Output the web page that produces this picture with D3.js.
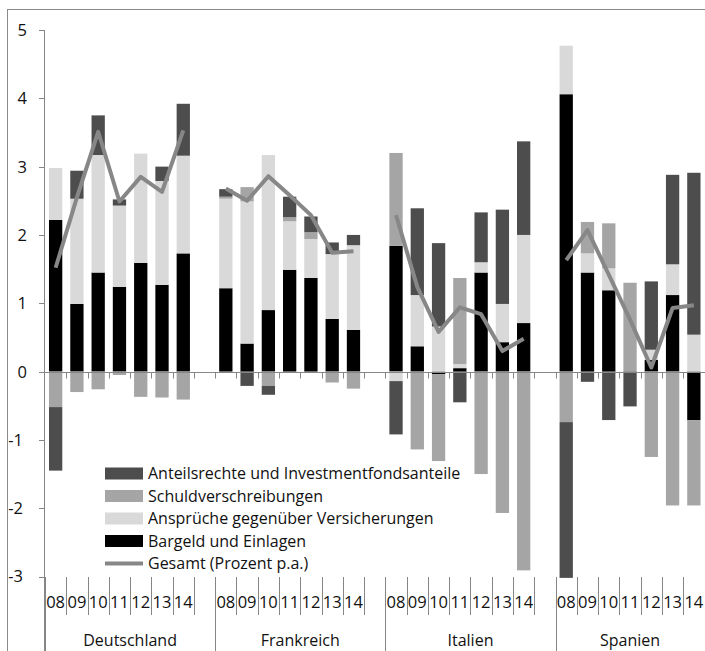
<!DOCTYPE html>
<html>
<head>
<meta charset="utf-8">
<script src="https://cdn.jsdelivr.net/npm/d3@7"></script>
<style>
  body { margin: 0; background: #fff; }
  svg { display: block; font-family: "Open Sans", sans-serif; }
</style>
</head>
<body>
<svg id="chart" width="705" height="651"></svg>
<script>
var countries = ["Deutschland", "Frankreich", "Italien", "Spanien"];
var years = ["08", "09", "10", "11", "12", "13", "14"];

// Beiträge in Prozentpunkten, je Land 08..14
var bargeld = [
  2.22, 0.99, 1.45, 1.24, 1.59, 1.27, 1.73,
  1.22, 0.41, 0.90, 1.49, 1.37, 0.77, 0.61,
  1.84, 0.37, -0.04, 0.05, 1.45, 0.43, 0.71,
  4.06, 1.45, 1.19, 0.00, 0.17, 1.12, -0.71
];
var ansprueche = [
  0.76, 1.54, 1.72, 1.19, 1.60, 1.52, 1.43,
  1.31, 2.08, 2.27, 0.71, 0.57, 0.95, 1.24,
  -0.14, 0.75, 0.66, 0.06, 0.15, 0.56, 1.29,
  0.71, 0.28, 0.32, 0.00, 0.15, 0.45, 0.54
];
var schuld = [
  -0.52, -0.30, -0.26, -0.05, -0.37, -0.38, -0.41,
  0.03, 0.21, -0.21, 0.06, 0.10, -0.16, -0.25,
  1.36, -1.14, -1.27, 1.26, -1.50, -2.07, -2.91,
  -0.74, 0.46, 0.66, 1.30, -1.25, -1.96, -1.25
];
var anteile = [
  -0.93, 0.41, 0.58, 0.09, 0.00, 0.21, 0.76,
  0.11, -0.21, -0.13, 0.30, 0.23, 0.17, 0.15,
  -0.78, 1.27, 1.22, -0.45, 0.73, 1.38, 1.37,
  -2.28, -0.15, -0.71, -0.51, 1.00, 1.31, 2.37
];
var gesamt = [
  1.52, 2.55, 3.51, 2.49, 2.85, 2.63, 3.53,
  2.68, 2.50, 2.86, 2.58, 2.29, 1.74, 1.76,
  2.29, 1.24, 0.58, 0.94, 0.84, 0.30, 0.48,
  1.63, 2.07, 1.42, 0.76, 0.06, 0.93, 0.97
];

var seriesKeys = ["bargeld", "ansprueche", "schuld", "anteile"];
var seriesColors = { bargeld: "#000000", ansprueche: "#d9d9d9", schuld: "#a5a5a5", anteile: "#4d4d4d" };
var legendLabels = [
  ["anteile", "Anteilsrechte und Investmentfondsanteile"],
  ["schuld", "Schuldverschreibungen"],
  ["ansprueche", "Ansprüche gegenüber Versicherungen"],
  ["bargeld", "Bargeld und Einlagen"],
  ["gesamt", "Gesamt (Prozent p.a.)"]
];
var yTicks = [5, 4, 3, 2, 1, 0, -1, -2, -3];

var svg = d3.select("#chart");
var axisColor = "#868686";
var lineColor = "#878787";
var fontSize = 16;

// outer frame
svg.append("rect")
  .attr("x", 7.5).attr("y", 9.5).attr("width", 760).attr("height", 700)
  .attr("fill", "none").attr("stroke", "#8a8a8a");

// rows, one per country/year, with an empty slot between countries
var rows = [];
var slots = [];
countries.forEach(function(c, ci) {
  years.forEach(function(yr, yi) {
    var i = ci * years.length + yi;
    var key = c + yr;
    slots.push(key);
    rows.push({ key: key, country: c, year: yr, bargeld: bargeld[i], ansprueche: ansprueche[i],
      schuld: schuld[i], anteile: anteile[i], gesamt: gesamt[i] });
  });
  if (ci < countries.length - 1) slots.push("gap" + ci);
});

var x = d3.scaleBand().domain(slots).range([45, 704.5]);
var y = d3.scaleLinear().domain([-3, 5]).range([576.5, 30]);
var bw = x.bandwidth();
var barW = bw * 0.625;

// y axis
var yAxis = svg.append("g");
yAxis.append("line")
  .attr("x1", 44.5).attr("x2", 44.5).attr("y1", y(5)).attr("y2", 651)
  .attr("stroke", axisColor);
yAxis.selectAll(".ytick").data(yTicks).enter().append("line")
  .attr("x1", 39).attr("x2", 44.5)
  .attr("y1", function(d) { return Math.round(y(d)) + 0.5; })
  .attr("y2", function(d) { return Math.round(y(d)) + 0.5; })
  .attr("stroke", axisColor);
yAxis.selectAll("text").data(yTicks).enter().append("text")
  .attr("x", function(d) { return d < 0 ? 23 : 27; })
  .attr("y", function(d) { return y(d); })
  .attr("dy", "0.36em")
  .attr("text-anchor", "end")
  .attr("font-size", fontSize + 0.5)
  .attr("fill", "#111")
  .text(function(d) { return d; });

// stacked bars
var stack = d3.stack().keys(seriesKeys).offset(d3.stackOffsetDiverging);
var stacked = stack(rows);

svg.append("g").selectAll("g").data(stacked).enter().append("g")
  .attr("fill", function(s) { return seriesColors[s.key]; })
  .selectAll("rect").data(function(s) { return s; }).enter().append("rect")
  .attr("x", function(d) { return x(d.data.key) + (bw - barW) / 2; })
  .attr("width", barW)
  .attr("y", function(d) { return y(Math.max(d[0], d[1])); })
  .attr("height", function(d) { return Math.abs(y(d[0]) - y(d[1])); });

// zero line with ticks at every slot boundary
var zeroY = Math.round(y(0)) + 0.5;
svg.append("line")
  .attr("x1", 44.5).attr("x2", 705).attr("y1", zeroY).attr("y2", zeroY)
  .attr("stroke", axisColor);
svg.append("g").selectAll("line").data(slots.slice(1)).enter().append("line")
  .attr("x1", function(d) { return Math.round(x(d)) + 0.5; })
  .attr("x2", function(d) { return Math.round(x(d)) + 0.5; })
  .attr("y1", zeroY).attr("y2", zeroY + 6)
  .attr("stroke", axisColor);

// Gesamt line, one piece per country
var line = d3.line()
  .x(function(d) { return x(d.key) + bw / 2; })
  .y(function(d) { return y(d.gesamt); });
svg.append("g").selectAll("path").data(countries).enter().append("path")
  .attr("d", function(c) { return line(rows.filter(function(r) { return r.country === c; })); })
  .attr("fill", "none")
  .attr("stroke", lineColor)
  .attr("stroke-width", 4)
  .attr("stroke-linejoin", "round");

// category labels: years and countries
var labels = svg.append("g");
labels.selectAll(".yr").data(rows).enter().append("text")
  .attr("x", function(d) { return x(d.key) + bw / 2; })
  .attr("y", 602.5)
  .attr("dy", "0.36em")
  .attr("text-anchor", "middle")
  .attr("font-size", fontSize + 0.5)
  .attr("fill", "#111")
  .text(function(d) { return d.year; });

// short separators between years
labels.selectAll(".sep").data(rows.filter(function(r) { return r.year !== years[0]; })
    .map(function(r) { return x(r.key); })
    .concat(countries.map(function(c) { return x(c + years[years.length - 1]) + bw; })))
  .enter().append("line")
  .attr("x1", function(d) { return Math.round(d) + 0.5; })
  .attr("x2", function(d) { return Math.round(d) + 0.5; })
  .attr("y1", 577).attr("y2", 615)
  .attr("stroke", axisColor);

// long separators at the start of each country
var groupStart = countries.map(function(c) { return x(c + years[0]); });
labels.selectAll(".gsep").data(groupStart).enter().append("line")
  .attr("x1", function(d) { return Math.round(d) + 0.5; })
  .attr("x2", function(d) { return Math.round(d) + 0.5; })
  .attr("y1", 577).attr("y2", 651)
  .attr("stroke", axisColor);

labels.selectAll(".cty").data(countries).enter().append("text")
  .attr("x", function(c, i) {
    var end = i < countries.length - 1 ? groupStart[i + 1] : 704.5;
    return (groupStart[i] + end) / 2;
  })
  .attr("y", 640)
  .attr("dy", "0.36em")
  .attr("text-anchor", "middle")
  .attr("font-size", fontSize)
  .attr("fill", "#111")
  .text(function(c) { return c; });

// legend
var legend = svg.append("g").selectAll("g").data(legendLabels).enter().append("g")
  .attr("transform", function(d, i) { return "translate(105," + (473.5 + i * 22.5) + ")"; });
legend.each(function(d) {
  var g = d3.select(this);
  if (d[0] === "gesamt") {
    g.append("line").attr("x1", 0).attr("x2", 38).attr("y1", 0).attr("y2", 0)
      .attr("stroke", lineColor).attr("stroke-width", 4);
  } else {
    g.append("rect").attr("x", 0).attr("y", -6).attr("width", 38).attr("height", 12)
      .attr("fill", seriesColors[d[0]]);
  }
  g.append("text").attr("x", 43).attr("y", 0).attr("dy", "0.36em")
    .attr("font-size", fontSize).attr("fill", "#111")
    .text(d[1]);
});
</script>
</body>
</html>
